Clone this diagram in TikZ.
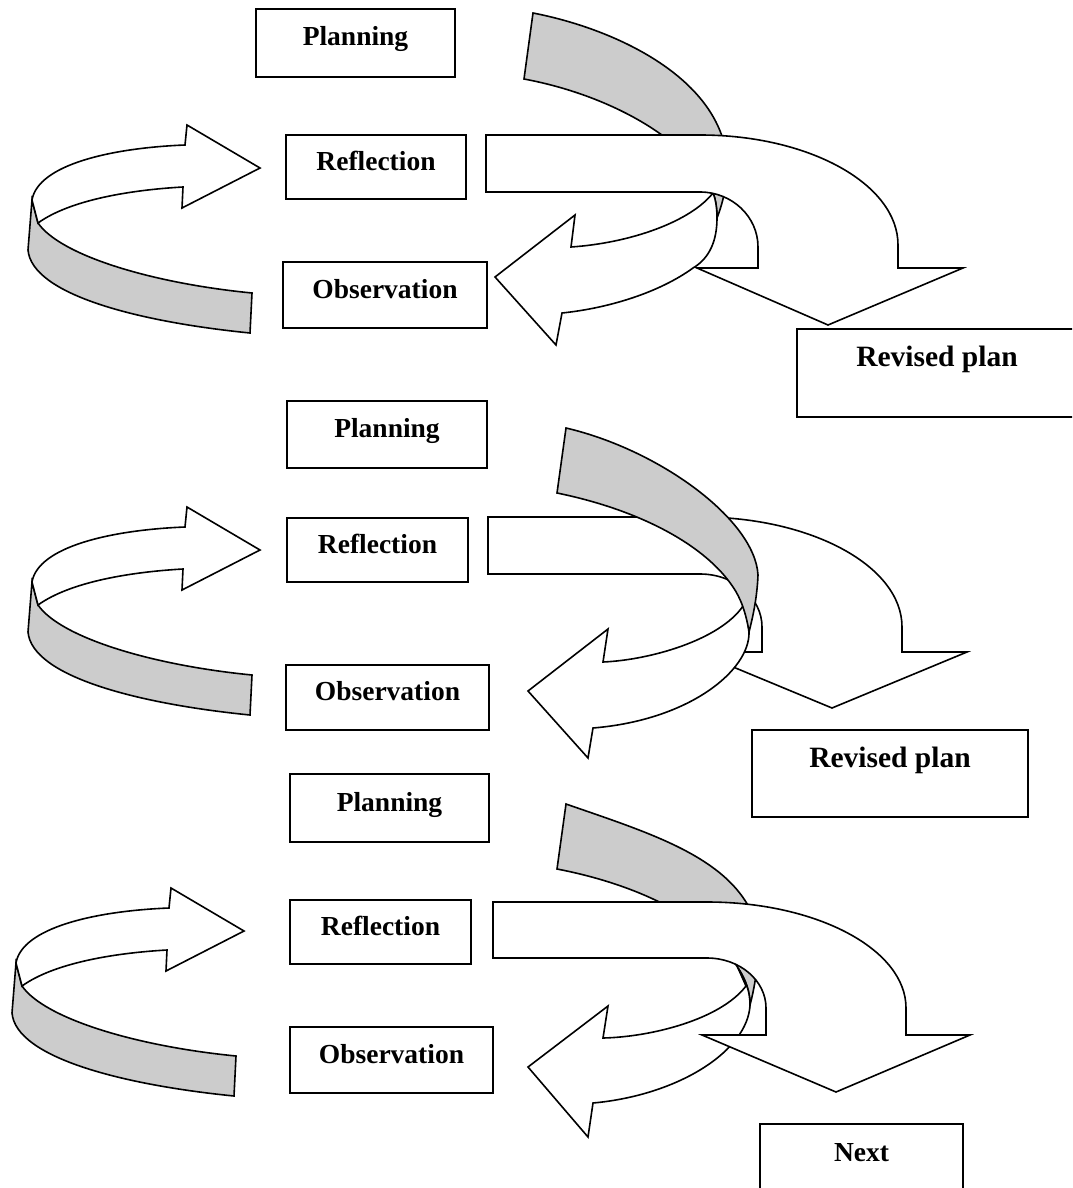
\documentclass[tikz,border=0pt]{standalone}
\usepackage{fontspec}
\setmainfont{Liberation Serif}
\definecolor{bandgray}{gray}{0.8}
\tikzstyle{stage} = [rectangle, draw=black, fill=white, inner sep=0pt, minimum height=33pt, text height=10pt, text depth=7pt, font=\bfseries\fontsize{13.75}{16}\selectfont]
\tikzstyle{target} = [stage, minimum height=44pt, text depth=16.3pt, font=\bfseries\fontsize{14.75}{17}\selectfont]
\tikzstyle{arrowbody} = [draw=black, fill=white]
\tikzstyle{ribbon} = [draw=black, fill=bandgray]

\begin{document}
\begin{tikzpicture}[x=0.5pt, y=-0.5pt, line width=0.8pt]
  \useasboundingbox (0,0) rectangle (1072,1188);
  \clip (0,0) rectangle (1072,1188);

  % first cycle
  \node (plan1) [stage, minimum width=99.5pt, minimum height=34pt] at (355.5,43) {Planning};
  \node (refl1) [stage, minimum width=90pt, minimum height=32pt] at (376,167) {Reflection};
  \node (obs1) [stage, minimum width=102pt] at (385,295) {Observation};
  \node (rev1) [target, minimum width=140pt] at (937,373) {Revised plan};

  \draw[ribbon] (32,200) -- (28,250) .. controls (32,295) and (140,322) .. (250,333) -- (252,293) .. controls (150,283) and (60,255) .. (38,223) -- cycle;
  \draw[arrowbody] (32,200) .. controls (38,165) and (110,148) .. (185,145) -- (187,125) -- (260,168) -- (182,208) -- (183,187) .. controls (130,190) and (70,200) .. (38,223) -- cycle;

  \draw[ribbon] (533,13) .. controls (620,30) and (720,80) .. (727,160) .. controls (728,185) and (722,205) .. (717,218) .. controls (717,210) and (716,200) .. (713,193) .. controls (690,140) and (610,95) .. (524,79) -- cycle;
  \draw[arrowbody] (713,193) .. controls (716,200) and (717,210) .. (717,218) .. controls (717,240) and (710,258) .. (693,268) .. controls (660,292) and (610,308) .. (562,313) -- (556,345) -- (495,277) -- (575,215) -- (571,247) .. controls (630,243) and (690,222) .. (713,193) -- cycle;
  \draw[arrowbody] (486,135) -- (700,135) arc[start angle=-90, end angle=0, x radius=198, y radius=110] -- (898,268) -- (963,268) -- (828,325) -- (697,268) -- (758,268) -- (758,247) arc[start angle=0, end angle=-90, x radius=58, y radius=55] -- (486,192) -- cycle;

  % second cycle
  \node (plan2) [stage, minimum width=100pt, minimum height=33.5pt] at (387,434.5) {Planning};
  \node (refl2) [stage, minimum width=90.5pt, minimum height=32pt] at (377.5,550) {Reflection};
  \node (obs2) [stage, minimum width=101.5pt, minimum height=32.5pt] at (387.5,697.5) {Observation};
  \node (rev2) [target, minimum width=138pt, minimum height=43.5pt] at (890,773.5) {Revised plan};

  \draw[ribbon] (32,582) -- (28,632) .. controls (32,677) and (140,704) .. (250,715) -- (252,675) .. controls (150,665) and (60,637) .. (38,605) -- cycle;
  \draw[arrowbody] (32,582) .. controls (38,547) and (110,530) .. (185,527) -- (187,507) -- (260,550) -- (182,590) -- (183,569) .. controls (130,572) and (70,582) .. (38,605) -- cycle;

  \draw[arrowbody] (488,517) -- (700,517) arc[start angle=-90, end angle=0, x radius=202, y radius=110] -- (902,652) -- (967,652) -- (832,708) -- (697,652) -- (762,652) -- (762,627) arc[start angle=0, end angle=-90, x radius=62, y radius=53] -- (488,574) -- cycle;
  \draw[arrowbody] (743,606) .. controls (746,615) and (749,625) .. (749,632) .. controls (750,670) and (690,720) .. (593,728) -- (588,758) -- (528,691) -- (608,629) -- (603,662) .. controls (650,660) and (720,640) .. (743,606) -- cycle;
  \draw[ribbon] (566,428) .. controls (660,450) and (755,520) .. (758,575) .. controls (757,600) and (752,620) .. (749,632) .. controls (746,612) and (740,597) .. (733,587) .. controls (705,545) and (640,510) .. (557,493) -- cycle;

  % third cycle
  \node (plan3) [stage, minimum width=99.5pt, minimum height=34pt] at (389.5,808) {Planning};
  \node (refl3) [stage, minimum width=90.5pt, minimum height=32pt] at (380.5,932) {Reflection};
  \node (obs3) [stage, minimum width=101.5pt] at (391.5,1060) {Observation};
  \node (next3) [target, minimum width=101.5pt, font=\bfseries\fontsize{13.75}{16}\selectfont] at (861.5,1168) {Next};

  \draw[ribbon] (16,963) -- (12,1013) .. controls (16,1058) and (124,1085) .. (234,1096) -- (236,1056) .. controls (134,1046) and (44,1018) .. (22,986) -- cycle;
  \draw[arrowbody] (16,963) .. controls (22,928) and (94,911) .. (169,908) -- (171,888) -- (244,931) -- (166,971) -- (167,950) .. controls (114,953) and (54,963) .. (22,986) -- cycle;

  \draw[ribbon] (566,804) .. controls (655,835) and (740,860) .. (758,930) .. controls (760,960) and (754,990) .. (750,1005) .. controls (750,992) and (746,980) .. (738,968) .. controls (710,920) and (640,885) .. (557,869) -- cycle;
  \draw[arrowbody] (738,968) .. controls (746,980) and (750,992) .. (750,1005) .. controls (748,1050) and (680,1095) .. (593,1103) -- (588,1137) -- (528,1067) -- (608,1006) -- (603,1038) .. controls (650,1037) and (720,1020) .. (746,986) -- cycle;
  \draw[arrowbody] (493,902) -- (707,902) arc[start angle=-90, end angle=0, x radius=199, y radius=106] -- (906,1035) -- (970,1035) -- (836,1092) -- (702,1035) -- (766,1035) -- (766,1008) arc[start angle=0, end angle=-90, x radius=59, y radius=50] -- (493,958) -- cycle;
\end{tikzpicture}
\end{document}
